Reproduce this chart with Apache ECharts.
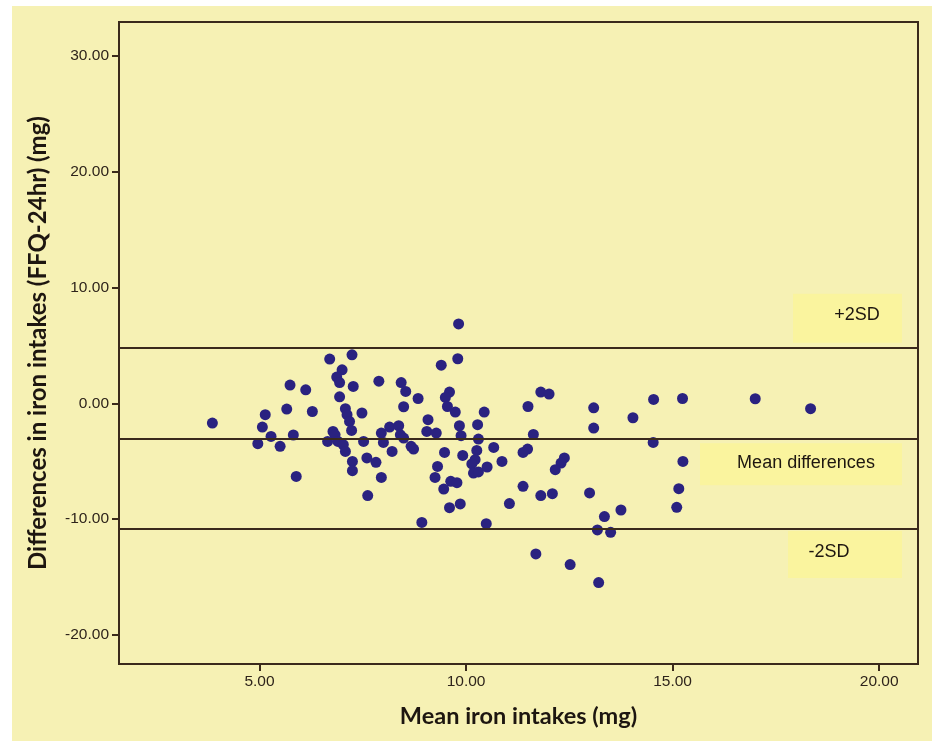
<!DOCTYPE html>
<html>
<head>
<meta charset="utf-8">
<script src="https://cdn.jsdelivr.net/npm/echarts@6/dist/echarts.min.js"></script>
<style>
html,body{margin:0;padding:0;background:#ffffff;}
#bg{position:absolute;left:12px;top:6px;width:920px;height:735px;background:#F6F1B4;}
#chart{position:absolute;left:0;top:0;width:934px;height:747px;}
</style>
</head>
<body>
<div id="bg"></div>
<div id="chart"></div>
<script>
// Mean iron intakes (mg) – x values
const meanIntake = [
  3.86, 5.14, 5.07, 5.28, 4.96, 5.50, 5.89, 5.66, 5.74, 5.82, 6.12, 6.28,
  6.70, 7.24, 7.00, 6.87, 6.94, 7.27, 6.94, 7.08, 7.12, 7.18, 7.23, 7.48,
  6.78, 6.83, 6.65, 6.90, 7.03, 7.08, 7.25, 7.25, 7.52, 7.60, 7.62,
  9.82, 9.80, 9.40, 7.89, 8.43, 8.54, 8.84, 8.49, 9.60, 9.50, 9.55, 9.74,
  10.44, 10.28, 9.84, 9.88, 11.50, 9.08, 9.05, 9.28, 8.15, 8.37, 7.95, 8.41,
  8.49, 8.00, 10.30, 10.67, 10.26, 8.21, 8.67, 8.73, 9.48, 9.92, 10.22, 10.14,
  10.87, 10.51, 7.82, 9.31, 9.25, 7.95, 9.63, 9.78, 10.18, 10.30, 9.46,
  11.05, 9.86, 9.60, 8.93, 10.49,
  11.81, 12.01, 13.09, 14.54, 15.24, 14.04, 13.09, 11.63, 14.53, 11.49, 11.38,
  12.38, 12.30, 12.16, 15.25, 11.38, 11.81, 12.09, 12.99, 15.15, 15.10, 13.75,
  13.35, 13.18, 13.50, 11.69, 12.52, 13.21,
  17.00, 18.34
];
// Differences in iron intakes (FFQ-24hr) (mg) – y values
const diffIntake = [
  -1.71, -0.99, -2.05, -2.86, -3.49, -3.72, -6.31, -0.50, 1.57, -2.74, 1.16, -0.71,
  3.81, 4.18, 2.89, 2.26, 1.79, 1.45, 0.56, -0.47, -0.99, -1.57, -2.34, -0.84,
  -2.43, -2.72, -3.29, -3.29, -3.58, -4.16, -5.02, -5.82, -3.29, -4.72, -7.97,
  6.85, 3.84, 3.29, 1.91, 1.79, 1.02, 0.41, -0.30, 0.97, 0.50, -0.28, -0.76,
  -0.76, -1.85, -1.94, -2.80, -0.28, -1.42, -2.43, -2.57, -2.05, -1.94, -2.57, -2.72,
  -3.00, -3.38, -3.09, -3.81, -4.07, -4.16, -3.72, -3.95, -4.24, -4.50, -4.87, -5.24,
  -5.02, -5.50, -5.10, -5.45, -6.40, -6.40, -6.74, -6.85, -6.02, -5.93, -7.40,
  -8.66, -8.69, -9.01, -10.28, -10.39,
  0.97, 0.79, -0.39, 0.33, 0.41, -1.25, -2.14, -2.69, -3.38, -3.95, -4.24,
  -4.72, -5.16, -5.73, -5.02, -7.17, -7.97, -7.80, -7.74, -7.37, -8.98, -9.21,
  -9.78, -10.93, -11.14, -13.00, -13.92, -15.47,
  0.39, -0.47
];
// Reference lines
const plus2SD = 4.79;
const meanDiff = -3.02;
const minus2SD = -10.84;
const lineLabels = ['+2SD', 'Mean differences', '-2SD'];
// Ticks
const xTicks = [5, 10, 15, 20];
const yTicks = [-20, -10, 0, 10, 20, 30];

const points = meanIntake.map((x, i) => [x, diffIntake[i]]);
const ink = '#3a2a1c';

const chart = echarts.init(document.getElementById('chart'), null, {renderer: 'canvas'});
chart.setOption({
  animation: false,
  backgroundColor: 'transparent',
  grid: {left: 119, right: 16, top: 22, bottom: 83, show: true,
         borderColor: ink, borderWidth: 2, backgroundColor: '#F6F1B4'},
  xAxis: {
    type: 'value', min: 1.6, max: 20.94,
    name: 'Mean iron intakes (mg)', nameLocation: 'middle', nameGap: 40,
    nameTextStyle: {fontFamily: 'Lato', fontWeight: 'bold', fontSize: 23.5, color: '#1d1610'},
    axisLine: {show: true, onZero: false, lineStyle: {color: ink, width: 2}},
    axisTick: {show: true, customValues: xTicks, length: 7, lineStyle: {color: ink, width: 2}},
    axisLabel: {customValues: xTicks, formatter: v => v.toFixed(2), margin: 10,
                fontFamily: 'Liberation Sans', fontSize: 15.5, color: '#2e241b'},
    splitLine: {show: false}
  },
  yAxis: {
    type: 'value', min: -22.5, max: 32.9,
    name: 'Differences in iron intakes (FFQ-24hr) (mg)', nameLocation: 'middle', nameGap: 69,
    nameTextStyle: {fontFamily: 'Lato', fontWeight: 'bold', fontSize: 24, color: '#1d1610'},
    axisLine: {show: true, onZero: false, lineStyle: {color: ink, width: 2}},
    axisTick: {show: true, customValues: yTicks, length: 7, lineStyle: {color: ink, width: 2}},
    axisLabel: {customValues: yTicks, formatter: v => v.toFixed(2), margin: 10,
                fontFamily: 'Liberation Sans', fontSize: 15.5, color: '#2e241b'},
    splitLine: {show: false}
  },
  series: [{
    type: 'scatter',
    data: points,
    symbolSize: 11,
    itemStyle: {color: '#2a2280', opacity: 1},
    markLine: {
      silent: true, symbol: 'none', animation: false,
      label: {show: false},
      lineStyle: {color: ink, width: 2, type: 'solid'},
      data: [{yAxis: plus2SD}, {yAxis: meanDiff}, {yAxis: minus2SD}]
    }
  }]
});

const yP = chart.convertToPixel({yAxisIndex: 0}, plus2SD);
const yM = chart.convertToPixel({yAxisIndex: 0}, meanDiff);
const yN = chart.convertToPixel({yAxisIndex: 0}, minus2SD);
const boxFill = '#FAF49E';
const txt = {fontFamily: 'Liberation Sans', fontSize: 18, fill: '#1d1610'};
chart.setOption({
  graphic: [
    {type: 'rect', shape: {x: 793, y: yP - 54, width: 109, height: 49}, style: {fill: boxFill}, z: 1},
    {type: 'text', x: 857, y: yP - 33, style: Object.assign({text: lineLabels[0], align: 'center', verticalAlign: 'middle'}, txt), z: 2},
    {type: 'rect', shape: {x: 700, y: yM + 5, width: 202, height: 42}, style: {fill: boxFill}, z: 1},
    {type: 'text', x: 806, y: yM + 25, style: Object.assign({text: lineLabels[1], align: 'center', verticalAlign: 'middle'}, txt), z: 2},
    {type: 'rect', shape: {x: 788, y: yN + 2, width: 114, height: 47}, style: {fill: boxFill}, z: 1},
    {type: 'text', x: 829, y: yN + 23, style: Object.assign({text: lineLabels[2], align: 'center', verticalAlign: 'middle'}, txt), z: 2}
  ]
});
</script>
</body>
</html>
